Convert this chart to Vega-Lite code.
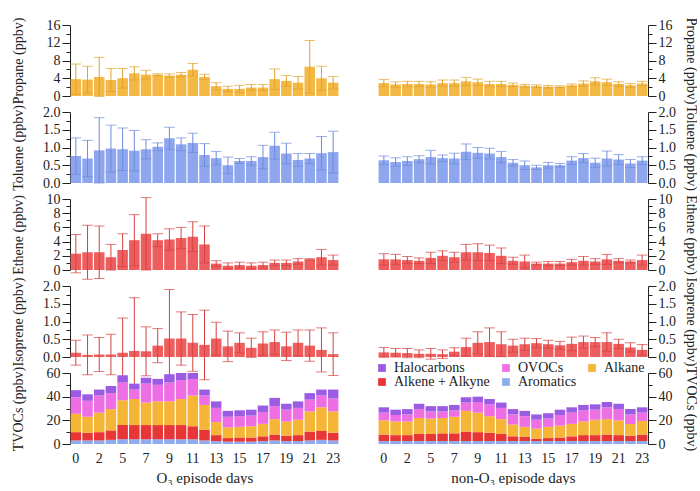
{
"$schema":"https://vega.github.io/schema/vega-lite/v6.json",
"background":"white",
"padding":{"left":10,"top":17,"right":0,"bottom":0},
"spacing":35,
"data":{"values":[
{"s":"O3","h":0,"pr":3.8,"pre":3.4,"to":0.76,"toe":0.51,"et":2.3,"ete":2.7,"is":0.12,"ise":0.35,"Aromatics":3,"Alkene + Alkyne":7,"Alkane":15.5,"OVOCs":14,"Halocarbons":6},
{"s":"O3","h":1,"pr":3.7,"pre":3.0,"to":0.69,"toe":0.51,"et":2.5,"ete":3.8,"is":0.06,"ise":0.56,"Aromatics":3,"Alkene + Alkyne":6.5,"Alkane":13.5,"OVOCs":13.5,"Halocarbons":5.5},
{"s":"O3","h":2,"pr":4.3,"pre":4.4,"to":0.92,"toe":0.92,"et":2.5,"ete":3.7,"is":0.07,"ise":0.48,"Aromatics":3,"Alkene + Alkyne":7,"Alkane":16.5,"OVOCs":14.5,"Halocarbons":5},
{"s":"O3","h":3,"pr":3.6,"pre":2.6,"to":0.97,"toe":0.66,"et":1.8,"ete":1.8,"is":0.07,"ise":0.57,"Aromatics":3.5,"Alkene + Alkyne":8,"Alkane":18,"OVOCs":13.5,"Halocarbons":6},
{"s":"O3","h":5,"pr":4.0,"pre":2.2,"to":0.95,"toe":0.60,"et":2.8,"ete":2.3,"is":0.12,"ise":0.98,"Aromatics":4,"Alkene + Alkyne":12,"Alkane":21,"OVOCs":15,"Halocarbons":6},
{"s":"O3","h":6,"pr":5.1,"pre":1.5,"to":0.91,"toe":0.57,"et":4.2,"ete":3.6,"is":0.17,"ise":1.50,"Aromatics":4,"Alkene + Alkyne":12,"Alkane":22,"OVOCs":8,"Halocarbons":5},
{"s":"O3","h":7,"pr":4.8,"pre":1.0,"to":0.95,"toe":0.27,"et":5.1,"ete":5.1,"is":0.16,"ise":0.69,"Aromatics":4,"Alkene + Alkyne":12,"Alkane":19,"OVOCs":16,"Halocarbons":5},
{"s":"O3","h":8,"pr":4.8,"pre":0.2,"to":1.02,"toe":0.11,"et":4.2,"ete":0.9,"is":0.32,"ise":0.48,"Aromatics":4,"Alkene + Alkyne":12,"Alkane":20,"OVOCs":14,"Halocarbons":5},
{"s":"O3","h":9,"pr":4.6,"pre":0.4,"to":1.26,"toe":0.31,"et":4.3,"ete":1.5,"is":0.52,"ise":1.38,"Aromatics":4,"Alkene + Alkyne":12,"Alkane":20,"OVOCs":16,"Halocarbons":7},
{"s":"O3","h":10,"pr":4.8,"pre":0.5,"to":1.09,"toe":0.18,"et":4.5,"ete":1.5,"is":0.52,"ise":0.75,"Aromatics":4,"Alkene + Alkyne":12,"Alkane":22,"OVOCs":16,"Halocarbons":6},
{"s":"O3","h":11,"pr":5.9,"pre":1.4,"to":1.13,"toe":0.27,"et":4.7,"ete":2.1,"is":0.40,"ise":0.80,"Aromatics":4,"Alkene + Alkyne":11,"Alkane":26,"OVOCs":14,"Halocarbons":5},
{"s":"O3","h":12,"pr":4.3,"pre":0.6,"to":0.79,"toe":0.32,"et":3.6,"ete":2.6,"is":0.34,"ise":0.98,"Aromatics":3,"Alkene + Alkyne":9,"Alkane":21,"OVOCs":8,"Halocarbons":5},
{"s":"O3","h":13,"pr":2.2,"pre":0.8,"to":0.70,"toe":0.19,"et":0.9,"ete":0.4,"is":0.52,"ise":0.46,"Aromatics":2.5,"Alkene + Alkyne":5,"Alkane":11,"OVOCs":12,"Halocarbons":5.5},
{"s":"O3","h":14,"pr":1.6,"pre":0.6,"to":0.50,"toe":0.23,"et":0.6,"ete":0.4,"is":0.30,"ise":0.43,"Aromatics":2,"Alkene + Alkyne":3,"Alkane":9,"OVOCs":9,"Halocarbons":5},
{"s":"O3","h":15,"pr":1.6,"pre":0.8,"to":0.62,"toe":0.07,"et":0.7,"ete":0.4,"is":0.40,"ise":0.28,"Aromatics":2,"Alkene + Alkyne":3.5,"Alkane":9,"OVOCs":9,"Halocarbons":5},
{"s":"O3","h":16,"pr":1.9,"pre":0.7,"to":0.62,"toe":0.12,"et":0.6,"ete":0.4,"is":0.26,"ise":0.27,"Aromatics":2,"Alkene + Alkyne":3.5,"Alkane":9.5,"OVOCs":9,"Halocarbons":5},
{"s":"O3","h":17,"pr":1.9,"pre":0.7,"to":0.73,"toe":0.33,"et":0.7,"ete":0.4,"is":0.38,"ise":0.33,"Aromatics":2.5,"Alkene + Alkyne":4,"Alkane":10.5,"OVOCs":10,"Halocarbons":5.5},
{"s":"O3","h":18,"pr":3.8,"pre":2.3,"to":1.05,"toe":0.38,"et":1.0,"ete":0.4,"is":0.42,"ise":0.34,"Aromatics":3,"Alkene + Alkyne":5,"Alkane":13,"OVOCs":11,"Halocarbons":7},
{"s":"O3","h":19,"pr":3.4,"pre":1.2,"to":0.83,"toe":0.29,"et":1.0,"ete":0.4,"is":0.30,"ise":0.40,"Aromatics":2.5,"Alkene + Alkyne":4.5,"Alkane":12,"OVOCs":10,"Halocarbons":5},
{"s":"O3","h":20,"pr":3.0,"pre":1.4,"to":0.65,"toe":0.18,"et":1.2,"ete":0.4,"is":0.40,"ise":0.36,"Aromatics":2.5,"Alkene + Alkyne":5,"Alkane":13,"OVOCs":10,"Halocarbons":5.5},
{"s":"O3","h":21,"pr":6.6,"pre":5.9,"to":0.69,"toe":0.14,"et":1.5,"ete":0.1,"is":0.32,"ise":0.44,"Aromatics":3,"Alkene + Alkyne":7.5,"Alkane":17,"OVOCs":10,"Halocarbons":5.5},
{"s":"O3","h":22,"pr":4.0,"pre":2.7,"to":0.84,"toe":0.47,"et":1.8,"ete":1.1,"is":0.20,"ise":0.62,"Aromatics":3.5,"Alkene + Alkyne":7.5,"Alkane":20,"OVOCs":10,"Halocarbons":5},
{"s":"O3","h":23,"pr":3.0,"pre":1.4,"to":0.87,"toe":0.59,"et":1.4,"ete":0.7,"is":0.08,"ise":0.60,"Aromatics":3,"Alkene + Alkyne":6.5,"Alkane":18,"OVOCs":11,"Halocarbons":7.5},
{"s":"N","h":0,"pr":2.9,"pre":0.8,"to":0.64,"toe":0.12,"et":1.5,"ete":0.8,"is":0.13,"ise":0.14,"Aromatics":2.5,"Alkene + Alkyne":5.5,"Alkane":12,"OVOCs":6.5,"Halocarbons":4.5},
{"s":"N","h":1,"pr":2.6,"pre":0.6,"to":0.59,"toe":0.12,"et":1.5,"ete":0.7,"is":0.12,"ise":0.12,"Aromatics":2.5,"Alkene + Alkyne":5,"Alkane":11.5,"OVOCs":5.5,"Halocarbons":4.5},
{"s":"N","h":2,"pr":2.7,"pre":0.6,"to":0.62,"toe":0.12,"et":1.4,"ete":0.5,"is":0.11,"ise":0.13,"Aromatics":2.5,"Alkene + Alkyne":5,"Alkane":11.5,"OVOCs":6,"Halocarbons":4.5},
{"s":"N","h":3,"pr":2.7,"pre":0.6,"to":0.67,"toe":0.10,"et":1.3,"ete":0.4,"is":0.09,"ise":0.11,"Aromatics":2.5,"Alkene + Alkyne":6,"Alkane":13.5,"OVOCs":7.5,"Halocarbons":4.5},
{"s":"N","h":5,"pr":2.6,"pre":0.6,"to":0.73,"toe":0.19,"et":1.7,"ete":0.8,"is":0.09,"ise":0.15,"Aromatics":2.5,"Alkene + Alkyne":6,"Alkane":13,"OVOCs":6,"Halocarbons":4.5},
{"s":"N","h":6,"pr":2.9,"pre":0.7,"to":0.70,"toe":0.09,"et":2.0,"ete":0.7,"is":0.08,"ise":0.12,"Aromatics":2.5,"Alkene + Alkyne":6.5,"Alkane":13,"OVOCs":5.5,"Halocarbons":4.5},
{"s":"N","h":7,"pr":2.9,"pre":0.7,"to":0.69,"toe":0.15,"et":1.8,"ete":0.7,"is":0.15,"ise":0.11,"Aromatics":2.5,"Alkene + Alkyne":6.5,"Alkane":14,"OVOCs":5.5,"Halocarbons":4.5},
{"s":"N","h":8,"pr":3.3,"pre":0.9,"to":0.88,"toe":0.22,"et":2.5,"ete":1.1,"is":0.28,"ise":0.25,"Aromatics":2.5,"Alkene + Alkyne":8,"Alkane":17.5,"OVOCs":7,"Halocarbons":4.5},
{"s":"N","h":9,"pr":3.1,"pre":0.7,"to":0.85,"toe":0.15,"et":2.5,"ete":1.2,"is":0.40,"ise":0.31,"Aromatics":2.5,"Alkene + Alkyne":7.5,"Alkane":16.5,"OVOCs":9,"Halocarbons":4.5},
{"s":"N","h":10,"pr":2.7,"pre":0.6,"to":0.83,"toe":0.15,"et":2.4,"ete":1.1,"is":0.42,"ise":0.40,"Aromatics":2.5,"Alkene + Alkyne":7,"Alkane":14,"OVOCs":10,"Halocarbons":4.5},
{"s":"N","h":11,"pr":2.7,"pre":0.6,"to":0.73,"toe":0.16,"et":2.0,"ete":1.1,"is":0.36,"ise":0.35,"Aromatics":2.5,"Alkene + Alkyne":6,"Alkane":12.5,"OVOCs":9.5,"Halocarbons":4.5},
{"s":"N","h":12,"pr":2.5,"pre":0.4,"to":0.57,"toe":0.09,"et":1.3,"ete":0.5,"is":0.32,"ise":0.18,"Aromatics":2.5,"Alkene + Alkyne":4,"Alkane":10,"OVOCs":8.5,"Halocarbons":4.5},
{"s":"N","h":13,"pr":2.3,"pre":0.3,"to":0.50,"toe":0.12,"et":1.2,"ete":0.9,"is":0.36,"ise":0.17,"Aromatics":2.5,"Alkene + Alkyne":3.5,"Alkane":8.5,"OVOCs":9,"Halocarbons":4.5},
{"s":"N","h":14,"pr":2.2,"pre":0.3,"to":0.44,"toe":0.06,"et":0.9,"ete":0.2,"is":0.39,"ise":0.13,"Aromatics":2.5,"Alkene + Alkyne":2,"Alkane":8.5,"OVOCs":7.5,"Halocarbons":4.5},
{"s":"N","h":15,"pr":2.1,"pre":0.3,"to":0.50,"toe":0.08,"et":0.9,"ete":0.3,"is":0.36,"ise":0.11,"Aromatics":2.5,"Alkene + Alkyne":2.5,"Alkane":9.5,"OVOCs":7,"Halocarbons":4.5},
{"s":"N","h":16,"pr":2.1,"pre":0.2,"to":0.50,"toe":0.05,"et":0.9,"ete":0.3,"is":0.33,"ise":0.11,"Aromatics":2.5,"Alkene + Alkyne":3,"Alkane":10,"OVOCs":9,"Halocarbons":4.5},
{"s":"N","h":17,"pr":2.4,"pre":0.3,"to":0.63,"toe":0.11,"et":1.1,"ete":0.4,"is":0.37,"ise":0.19,"Aromatics":2.5,"Alkene + Alkyne":4,"Alkane":10.5,"OVOCs":9.5,"Halocarbons":4.5},
{"s":"N","h":18,"pr":2.8,"pre":0.6,"to":0.70,"toe":0.13,"et":1.3,"ete":0.6,"is":0.42,"ise":0.17,"Aromatics":2.5,"Alkene + Alkyne":5,"Alkane":11.5,"OVOCs":9.5,"Halocarbons":4.5},
{"s":"N","h":19,"pr":3.3,"pre":0.8,"to":0.57,"toe":0.13,"et":1.2,"ete":0.4,"is":0.42,"ise":0.13,"Aromatics":2.5,"Alkene + Alkyne":5,"Alkane":13,"OVOCs":8.5,"Halocarbons":4.5},
{"s":"N","h":20,"pr":3.1,"pre":0.7,"to":0.69,"toe":0.21,"et":1.5,"ete":0.7,"is":0.42,"ise":0.26,"Aromatics":2.5,"Alkene + Alkyne":5.5,"Alkane":13,"OVOCs":10,"Halocarbons":4.5},
{"s":"N","h":21,"pr":2.7,"pre":0.5,"to":0.66,"toe":0.14,"et":1.3,"ete":0.3,"is":0.37,"ise":0.13,"Aromatics":2.5,"Alkene + Alkyne":5,"Alkane":12.5,"OVOCs":9.5,"Halocarbons":4.5},
{"s":"N","h":22,"pr":2.4,"pre":0.4,"to":0.55,"toe":0.11,"et":1.2,"ete":0.2,"is":0.27,"ise":0.13,"Aromatics":2.5,"Alkene + Alkyne":4.5,"Alkane":10,"OVOCs":8,"Halocarbons":4.5},
{"s":"N","h":23,"pr":2.8,"pre":0.5,"to":0.63,"toe":0.11,"et":1.4,"ete":0.7,"is":0.20,"ise":0.15,"Aromatics":2.5,"Alkene + Alkyne":5.5,"Alkane":11.5,"OVOCs":7,"Halocarbons":4.5}
]},
"resolve":{"scale":{"y":"independent"},"legend":{"color":"independent"}},
"hconcat":[
{"vconcat":[
 {"width":269,"height":71,"transform":[{"filter":"datum.s==='O3'"}],
  "encoding":{"x":{"field":"h","type":"ordinal","scale":{"domain":[0,1,2,3,5,6,7,8,9,10,11,12,13,14,15,16,17,18,19,20,21,22,23],"paddingInner":0.1,"paddingOuter":0.05},"axis":null},
   "y":{"field":"pr","type":"quantitative","scale":{"domain":[0,16],"nice":false},"axis":{"orient":"left","title":"Propane (ppbv)","titleX":-45,"values":[0,2,4,6,8,10,12,14,16],"labelExpr":"datum.value % 4 === 0 ? datum.label : ''","tickSize":{"condition":{"test":"datum.value % 4 === 0","value":8},"value":4}}}},
  "layer":[{"mark":{"type":"bar","color":"#F4B844"}},{"mark":{"type":"errorbar","ticks":true,"color":"#E0A22C"},"encoding":{"yError":{"field":"pre"}}}]},
 {"width":269,"height":71,"transform":[{"filter":"datum.s==='O3'"}],
  "encoding":{"x":{"field":"h","type":"ordinal","scale":{"domain":[0,1,2,3,5,6,7,8,9,10,11,12,13,14,15,16,17,18,19,20,21,22,23],"paddingInner":0.1,"paddingOuter":0.05},"axis":null},
   "y":{"field":"to","type":"quantitative","scale":{"domain":[0,2],"nice":false},"axis":{"orient":"left","title":"Toluene (ppbv)","titleX":-45,"values":[0,0.25,0.5,0.75,1,1.25,1.5,1.75,2],"labelExpr":"datum.value % 0.5 === 0 ? format(datum.value, '.1f') : ''","tickSize":{"condition":{"test":"datum.value % 0.5 === 0","value":8},"value":4}}}},
  "layer":[{"mark":{"type":"bar","color":"#8EA6EE"}},{"mark":{"type":"errorbar","ticks":true,"color":"#6F8BDD"},"encoding":{"yError":{"field":"toe"}}}]},
 {"width":269,"height":71,"transform":[{"filter":"datum.s==='O3'"}],
  "encoding":{"x":{"field":"h","type":"ordinal","scale":{"domain":[0,1,2,3,5,6,7,8,9,10,11,12,13,14,15,16,17,18,19,20,21,22,23],"paddingInner":0.1,"paddingOuter":0.05},"axis":null},
   "y":{"field":"et","type":"quantitative","scale":{"domain":[0,10],"nice":false},"axis":{"orient":"left","title":"Ethene (ppbv)","titleX":-45,"values":[0,1,2,3,4,5,6,7,8,9,10],"labelExpr":"datum.value % 2 === 0 ? datum.label : ''","tickSize":{"condition":{"test":"datum.value % 2 === 0","value":8},"value":4}}}},
  "layer":[{"mark":{"type":"bar","color":"#EF5E5E"}},{"mark":{"type":"errorbar","ticks":true,"color":"#D64040"},"encoding":{"yError":{"field":"ete"}}}]},
 {"width":269,"height":71,"transform":[{"filter":"datum.s==='O3'"}],
  "encoding":{"x":{"field":"h","type":"ordinal","scale":{"domain":[0,1,2,3,5,6,7,8,9,10,11,12,13,14,15,16,17,18,19,20,21,22,23],"paddingInner":0.1,"paddingOuter":0.05},"axis":null},
   "y":{"field":"is","type":"quantitative","scale":{"domain":[0,2],"nice":false},"axis":{"orient":"left","title":"Isoprene (ppbv)","titleX":-45,"values":[0,0.25,0.5,0.75,1,1.25,1.5,1.75,2],"labelExpr":"datum.value % 0.5 === 0 ? format(datum.value, '.1f') : ''","tickSize":{"condition":{"test":"datum.value % 0.5 === 0","value":8},"value":4}}}},
  "layer":[{"mark":{"type":"bar","color":"#EF5E5E"}},{"mark":{"type":"errorbar","ticks":true,"color":"#D64040"},"encoding":{"yError":{"field":"ise"}}}]},
 {"width":269,"height":71,"transform":[{"filter":"datum.s==='O3'"},{"fold":["Aromatics","Alkene + Alkyne","Alkane","OVOCs","Halocarbons"],"as":["g","v"]},{"calculate":"indexof(['Aromatics','Alkene + Alkyne','Alkane','OVOCs','Halocarbons'], datum.g)","as":"o"}],
  "mark":{"type":"bar"},
  "encoding":{"x":{"field":"h","type":"ordinal","scale":{"domain":[0,1,2,3,5,6,7,8,9,10,11,12,13,14,15,16,17,18,19,20,21,22,23],"paddingInner":0.1,"paddingOuter":0.05},"axis":{"values":[0,2,5,7,9,11,13,15,17,19,21,23],"labelAngle":0,"domain":false,"ticks":false,"labelPadding":7,"title":"O₃ episode days","titlePadding":5,"titleFontSize":15}},
   "y":{"field":"v","type":"quantitative","stack":"zero","scale":{"domain":[0,60],"nice":false},"axis":{"orient":"left","title":"TVOCs (ppbv)","titleX":-45,"values":[0,10,20,30,40,50,60],"labelExpr":"datum.value % 20 === 0 ? datum.label : ''","tickSize":{"condition":{"test":"datum.value % 20 === 0","value":8},"value":4}}},
   "color":{"field":"g","type":"nominal","scale":{"domain":["Halocarbons","Alkene + Alkyne","OVOCs","Aromatics","Alkane"],"range":["#9B5CE3","#E83535","#EE6EE4","#8FAAEE","#F5B536"]},"legend":null},
   "order":{"field":"o","type":"quantitative"}}}
 ],"spacing":16,"bounds":"flush","resolve":{"scale":{"y":"independent"},"legend":{"color":"independent"}}},
{"vconcat":[
 {"width":270,"height":71,"transform":[{"filter":"datum.s==='N'"}],
  "encoding":{"x":{"field":"h","type":"ordinal","scale":{"domain":[0,1,2,3,5,6,7,8,9,10,11,12,13,14,15,16,17,18,19,20,21,22,23],"paddingInner":0.1,"paddingOuter":0.05},"axis":null},
   "y":{"field":"pr","type":"quantitative","scale":{"domain":[0,16],"nice":false},"axis":{"orient":"right","title":"Propane (ppbv)","titleX":35,"values":[0,2,4,6,8,10,12,14,16],"labelExpr":"datum.value % 4 === 0 ? datum.label : ''","tickSize":{"condition":{"test":"datum.value % 4 === 0","value":8},"value":4}}}},
  "layer":[{"mark":{"type":"bar","color":"#F4B844"}},{"mark":{"type":"errorbar","ticks":true,"color":"#E0A22C"},"encoding":{"yError":{"field":"pre"}}}]},
 {"width":270,"height":71,"transform":[{"filter":"datum.s==='N'"}],
  "encoding":{"x":{"field":"h","type":"ordinal","scale":{"domain":[0,1,2,3,5,6,7,8,9,10,11,12,13,14,15,16,17,18,19,20,21,22,23],"paddingInner":0.1,"paddingOuter":0.05},"axis":null},
   "y":{"field":"to","type":"quantitative","scale":{"domain":[0,2],"nice":false},"axis":{"orient":"right","title":"Toluene (ppbv)","titleX":35,"values":[0,0.25,0.5,0.75,1,1.25,1.5,1.75,2],"labelExpr":"datum.value % 0.5 === 0 ? format(datum.value, '.1f') : ''","tickSize":{"condition":{"test":"datum.value % 0.5 === 0","value":8},"value":4}}}},
  "layer":[{"mark":{"type":"bar","color":"#8EA6EE"}},{"mark":{"type":"errorbar","ticks":true,"color":"#6F8BDD"},"encoding":{"yError":{"field":"toe"}}}]},
 {"width":270,"height":71,"transform":[{"filter":"datum.s==='N'"}],
  "encoding":{"x":{"field":"h","type":"ordinal","scale":{"domain":[0,1,2,3,5,6,7,8,9,10,11,12,13,14,15,16,17,18,19,20,21,22,23],"paddingInner":0.1,"paddingOuter":0.05},"axis":null},
   "y":{"field":"et","type":"quantitative","scale":{"domain":[0,10],"nice":false},"axis":{"orient":"right","title":"Ethene (ppbv)","titleX":35,"values":[0,1,2,3,4,5,6,7,8,9,10],"labelExpr":"datum.value % 2 === 0 ? datum.label : ''","tickSize":{"condition":{"test":"datum.value % 2 === 0","value":8},"value":4}}}},
  "layer":[{"mark":{"type":"bar","color":"#EF5E5E"}},{"mark":{"type":"errorbar","ticks":true,"color":"#D64040"},"encoding":{"yError":{"field":"ete"}}}]},
 {"width":270,"height":71,"transform":[{"filter":"datum.s==='N'"}],
  "encoding":{"x":{"field":"h","type":"ordinal","scale":{"domain":[0,1,2,3,5,6,7,8,9,10,11,12,13,14,15,16,17,18,19,20,21,22,23],"paddingInner":0.1,"paddingOuter":0.05},"axis":null},
   "y":{"field":"is","type":"quantitative","scale":{"domain":[0,2],"nice":false},"axis":{"orient":"right","title":"Isoprene (ppbv)","titleX":35,"values":[0,0.25,0.5,0.75,1,1.25,1.5,1.75,2],"labelExpr":"datum.value % 0.5 === 0 ? format(datum.value, '.1f') : ''","tickSize":{"condition":{"test":"datum.value % 0.5 === 0","value":8},"value":4}}}},
  "layer":[{"mark":{"type":"bar","color":"#EF5E5E"}},{"mark":{"type":"errorbar","ticks":true,"color":"#D64040"},"encoding":{"yError":{"field":"ise"}}}]},
 {"width":270,"height":71,"transform":[{"filter":"datum.s==='N'"},{"fold":["Aromatics","Alkene + Alkyne","Alkane","OVOCs","Halocarbons"],"as":["g","v"]},{"calculate":"indexof(['Aromatics','Alkene + Alkyne','Alkane','OVOCs','Halocarbons'], datum.g)","as":"o"}],
  "mark":{"type":"bar"},
  "encoding":{"x":{"field":"h","type":"ordinal","scale":{"domain":[0,1,2,3,5,6,7,8,9,10,11,12,13,14,15,16,17,18,19,20,21,22,23],"paddingInner":0.1,"paddingOuter":0.05},"axis":{"values":[0,2,5,7,9,11,13,15,17,19,21,23],"labelAngle":0,"domain":false,"ticks":false,"labelPadding":7,"title":"non-O₃ episode days","titlePadding":5,"titleFontSize":15}},
   "y":{"field":"v","type":"quantitative","stack":"zero","scale":{"domain":[0,60],"nice":false},"axis":{"orient":"right","title":"TVOCs (ppbv)","titleX":35,"values":[0,10,20,30,40,50,60],"labelExpr":"datum.value % 20 === 0 ? datum.label : ''","tickSize":{"condition":{"test":"datum.value % 20 === 0","value":8},"value":4}}},
   "color":{"field":"g","type":"nominal","scale":{"domain":["Halocarbons","Alkene + Alkyne","OVOCs","Aromatics","Alkane"],"range":["#9B5CE3","#E83535","#EE6EE4","#8FAAEE","#F5B536"]},
    "legend":{"orient":"none","legendX":-3,"legendY":-12,"columns":3,"title":null,"symbolType":"square","symbolSize":60,"symbolStrokeWidth":0,"labelFontSize":14,"labelFont":"Liberation Serif","labelColor":"#222","labelOffset":5,"columnPadding":8,"rowPadding":0,"gridAlign":"each"}},
   "order":{"field":"o","type":"quantitative"}}}
 ],"spacing":16,"bounds":"flush","resolve":{"scale":{"y":"independent"},"legend":{"color":"independent"}}}
],
"config":{
 "view":{"stroke":null},
 "font":"Liberation Serif",
 "axis":{"grid":false,"labelFont":"Liberation Serif","titleFont":"Liberation Serif","labelFontSize":14,"titleFontSize":14,"titleFontWeight":"normal","labelColor":"#222","titleColor":"#222","domainColor":"#222","tickColor":"#222","labelOverlap":false,"labelFlush":false,"labelPadding":2}
}
}
